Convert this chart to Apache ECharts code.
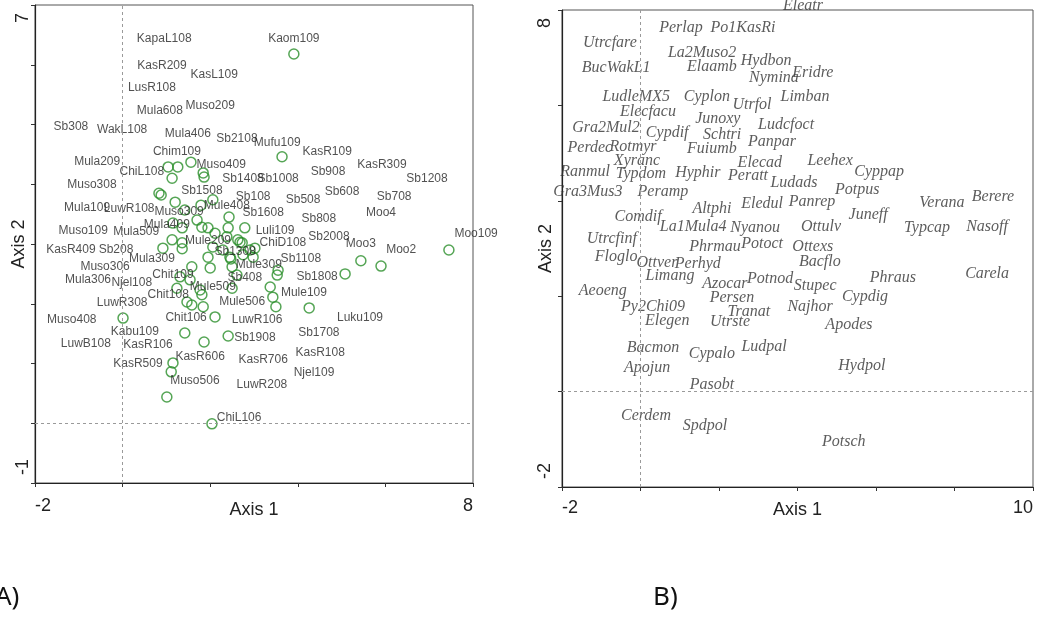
<!DOCTYPE html>
<html>
<head>
<meta charset="utf-8">
<script src="https://cdn.jsdelivr.net/npm/echarts@6/dist/echarts.min.js"></script>
<style>
  html, body { margin: 0; padding: 0; background: #fff; }
  #chart { width: 1043px; height: 626px; }
</style>
</head>
<body>
<div id="chart"></div>
<script>
// ---- Panel A: site scores (axis 1 / axis 2) ----
const xRangeA = [-2, 8];
const yRangeA = [-1, 7];
const siteX = [3.91, 3.64, 1.04, 1.26, 1.56, 1.13, 1.84, 1.86, 0.83, 0.88, 1.20, 1.79, 1.42, 2.06, 2.43, 2.41, 2.79, 1.15,
  1.36, 1.70, 1.81, 1.95, 1.13, 0.92, 1.36, 1.36, 2.11, 2.38, 2.63, 2.73, 2.06, 2.29, 2.45, 2.47, 2.75, 2.91, 2.98,
  3.02, 1.95, 2.00, 1.58, 1.31, 1.54, 1.24, 1.77, 2.50, 2.61, 2.50, 3.53, 3.55, 3.37, 3.43, 2.68, 3.50, 4.26, 5.08,
  5.44, 5.90, 7.45, 1.47, 1.58, 1.81, 1.84, 2.11, 1.42, 1.86, 2.41, 0.01, 1.15, 1.11, 1.01, 2.04];
const siteY = [6.18, 4.46, 4.29, 4.29, 4.37, 4.10, 4.19, 4.12, 3.85, 3.82, 3.70, 3.65, 3.57, 3.74, 3.45, 3.27, 3.27, 3.35,
  3.27, 3.40, 3.28, 3.27, 3.07, 2.93, 3.02, 2.92, 3.18, 3.12, 3.07, 3.02, 2.95, 2.90, 2.78, 2.75, 2.82, 2.90, 2.78,
  2.93, 2.78, 2.60, 2.62, 2.45, 2.40, 2.26, 2.23, 2.62, 2.48, 2.26, 2.48, 2.56, 2.28, 2.11, 3.03, 1.95, 1.93, 2.50,
  2.72, 2.63, 2.90, 2.03, 1.98, 2.15, 1.95, 1.78, 1.51, 1.36, 1.46, 1.76, 1.01, 0.86, 0.44, -0.01];

// site names and where each name sits in axis units
const siteNames = ['KapaL108', 'KasR209', 'KasL109', 'LusR108', 'Mula608', 'Muso209', 'Sb308', 'WakL108', 'Mula406',
  'Sb2108', 'Mufu109', 'Kaom109', 'KasR109', 'Chim109', 'Mula209', 'ChiL108', 'Muso409', 'Sb1408', 'Sb1008', 'Sb908',
  'KasR309', 'Sb1208', 'Muso308', 'Sb1508', 'Sb108', 'Sb508', 'Sb608', 'Sb708', 'Mula109', 'LuwR108', 'Muso309',
  'Mule408', 'Sb1608', 'Moo4', 'Sb808', 'Muso109', 'Mula509', 'Mula409', 'Luli109', 'Moo109', 'Sb2008', 'KasR409',
  'Sb208', 'Mule209', 'ChiD108', 'Moo3', 'Moo2', 'Sb1308', 'Muso306', 'Mula309', 'Sb1108', 'Mule309', 'Mula306',
  'Njel108', 'Chit109', 'Sb1808', 'Sb408', 'Chit108', 'Mule509', 'Mule109', 'Mule506', 'LuwR308', 'Muso408',
  'Chit106', 'LuwR106', 'Luku109', 'Kabu109', 'Sb1908', 'Sb1708', 'LuwB108', 'KasR106', 'KasR606', 'KasR706',
  'KasR108', 'KasR509', 'Muso506', 'Njel109', 'LuwR208', 'ChiL106'];
const siteNameX = [0.95, 0.90, 2.09, 0.67, 0.85, 2.00, -1.18, -0.01, 1.49, 2.61, 3.53, 3.91, 4.67, 1.24, -0.58, 0.44,
  2.25, 2.75, 3.55, 4.69, 5.92, 6.95, -0.70, 1.81, 2.98, 4.12, 5.01, 6.20, -0.81, 0.15, 1.29, 2.38, 3.21, 5.90, 4.48,
  -0.90, 0.31, 1.01, 3.48, 8.07, 4.71, -1.18, -0.15, 1.95, 3.66, 5.44, 6.36, 2.57, -0.40, 0.67, 4.07, 3.11, -0.79,
  0.21, 1.15, 4.44, 2.79, 1.04, 2.06, 4.14, 2.73, -0.01, -1.16, 1.45, 3.07, 5.42, 0.28, 3.02, 4.48, -0.84, 0.58,
  1.77, 3.21, 4.51, 0.35, 1.65, 4.37, 3.18, 2.66];
const siteNameY = [6.43, 5.98, 5.83, 5.61, 5.23, 5.31, 4.96, 4.92, 4.84, 4.76, 4.69, 6.43, 4.54, 4.54, 4.37, 4.21,
  4.32, 4.09, 4.09, 4.21, 4.32, 4.10, 3.99, 3.90, 3.79, 3.74, 3.87, 3.79, 3.60, 3.59, 3.54, 3.64, 3.52, 3.52, 3.42,
  3.23, 3.20, 3.33, 3.23, 3.17, 3.12, 2.90, 2.90, 3.05, 3.02, 3.00, 2.90, 2.87, 2.62, 2.75, 2.75, 2.65, 2.41, 2.35,
  2.48, 2.45, 2.43, 2.15, 2.28, 2.18, 2.03, 2.01, 1.73, 1.76, 1.73, 1.76, 1.53, 1.43, 1.51, 1.33, 1.31, 1.11, 1.06,
  1.18, 0.99, 0.71, 0.84, 0.64, 0.10];

// ---- Panel B: species scores ----
const xRangeB = [-2, 10];
const yRangeB = [-2, 8];
const speciesNames = ['Eleatr', 'Perlap', 'Po1KasRi', 'Utrcfare', 'La2Muso2', 'Hydbon', 'BucWakL1', 'Elaamb', 'Nymina',
  'Eridre', 'LudleMX5', 'Cyplon', 'Utrfol', 'Limban', 'Elecfacu', 'Junoxy', 'Ludcfoct', 'Gra2Mul2', 'Cypdif', 'Schtri',
  'Panpar', 'Perdec', 'Rotmyr', 'Fuiumb', 'Xyranc', 'Elecad', 'Leehex', 'Ranmul', 'Typdom', 'Hyphir', 'Peratt',
  'Cyppap', 'Ludads', 'Gra3Mus3', 'Peramp', 'Potpus', 'Verana', 'Berere', 'Altphi', 'Eledul', 'Panrep', 'Comdif',
  'Juneff', 'La1Mula4', 'Nyanou', 'Ottulv', 'Typcap', 'Nasoff', 'Utrcfinf', 'Phrmau', 'Potoct', 'Ottexs', 'Floglo',
  'Ottver', 'Perhyd', 'Bacflo', 'Limang', 'Phraus', 'Carela', 'Azocar', 'Potnod', 'Stupec', 'Aeoeng', 'Persen',
  'Cypdig', 'Py2Chi09', 'Tranat', 'Najhor', 'Elegen', 'Utrste', 'Apodes', 'Bacmon', 'Cypalo', 'Ludpal', 'Hydpol',
  'Apojun', 'Pasobt', 'Cerdem', 'Spdpol', 'Potsch'];
const speciesX = [4.14, 1.03, 2.61, -0.78, 1.57, 3.20, -0.62, 1.82, 3.40, 4.39, -0.11, 1.69, 2.84, 4.19, 0.19, 1.97,
  3.71, -0.88, 0.68, 2.08, 3.35, -1.29, -0.19, 1.82, -0.09, 3.04, 4.83, -1.41, 0.01, 1.46, 2.74, 6.08, 3.91, -1.34,
  0.57, 5.52, 7.68, 8.98, 1.82, 3.10, 4.37, -0.06, 5.80, 1.34, 2.92, 4.60, 7.30, 8.83, -0.73, 1.90, 3.10, 4.39,
  -0.62, 0.42, 1.46, 4.57, 0.75, 6.43, 8.83, 2.15, 3.30, 4.45, -0.96, 2.33, 5.72, 0.32, 2.76, 4.32, 0.68, 2.28,
  5.31, 0.32, 1.82, 3.15, 5.64, 0.17, 1.82, 0.14, 1.64, 5.18];
const speciesY = [8.08, 7.62, 7.62, 7.31, 7.10, 6.93, 6.78, 6.81, 6.57, 6.68, 6.18, 6.18, 6.01, 6.18, 5.86, 5.71,
  5.59, 5.53, 5.42, 5.38, 5.23, 5.11, 5.13, 5.09, 4.83, 4.79, 4.83, 4.60, 4.56, 4.58, 4.52, 4.60, 4.37, 4.18, 4.18,
  4.23, 3.95, 4.08, 3.83, 3.93, 3.97, 3.66, 3.70, 3.45, 3.43, 3.45, 3.43, 3.45, 3.20, 3.03, 3.09, 3.03, 2.82, 2.70,
  2.68, 2.72, 2.42, 2.38, 2.47, 2.26, 2.36, 2.21, 2.11, 1.96, 1.98, 1.77, 1.67, 1.77, 1.48, 1.46, 1.40, 0.91, 0.79,
  0.93, 0.54, 0.49, 0.14, -0.51, -0.72, -1.06];

const zip = (xs, ys, names) => xs.map((x, i) => names ? { name: names[i], value: [x, ys[i]] } : [x, ys[i]]);

const chart = echarts.init(document.getElementById('chart'), null, { renderer: 'canvas' });

const sans = 'Liberation Sans, Arial, sans-serif';
const serif = 'Liberation Serif, Times New Roman, serif';

function xAxisFor(gridIndex, range, nameGap, labelMargin) {
  return {
    gridIndex, type: 'value', min: range[0], max: range[1], interval: 2,
    name: 'Axis 1', nameLocation: 'middle', nameGap, nameMoveOverlap: false,
    nameTextStyle: { fontFamily: sans, fontSize: 18, color: '#222', verticalAlign: 'top' },
    axisLine: { onZero: false, lineStyle: { color: '#222', width: 1.2 } },
    axisTick: { length: 4, lineStyle: { color: '#333' } },
    splitLine: { show: false },
    axisLabel: {
      margin: labelMargin, fontFamily: sans, fontSize: 18, color: '#222',
      alignMinLabel: 'left', alignMaxLabel: 'right', hideOverlap: false,
      formatter: v => (v === range[0] || v === range[1]) ? String(v) : ''
    }
  };
}

function yAxisFor(gridIndex, range, step, labelMargin) {
  return {
    gridIndex, type: 'value', min: range[0], max: range[1], interval: step,
    name: 'Axis 2', nameLocation: 'middle', nameGap: 7, nameRotate: 90, nameMoveOverlap: false,
    nameTextStyle: { fontFamily: sans, fontSize: 18, color: '#222' },
    axisLine: { onZero: false, lineStyle: { color: '#222', width: 1.2 } },
    axisTick: { length: 4, lineStyle: { color: '#333' } },
    splitLine: { show: false },
    axisLabel: {
      margin: labelMargin, rotate: 90, fontFamily: sans, fontSize: 18, color: '#222',
      alignMinLabel: 'left', alignMaxLabel: 'right', hideOverlap: false,
      padding: [0, 8, 0, 8],
      formatter: v => (v === range[0] || v === range[1]) ? String(v) : ''
    }
  };
}

const zeroLines = {
  silent: true, symbol: 'none', animation: false,
  label: { show: false },
  lineStyle: { type: [3, 3], color: '#9a9a9a', width: 1 },
  data: [{ xAxis: 0 }, { yAxis: 0 }]
};

function nameSeries(idx, data, font, size, color, style) {
  return {
    type: 'scatter', xAxisIndex: idx, yAxisIndex: idx, clip: false, silent: true,
    symbol: 'circle', symbolSize: 1,
    itemStyle: { color: 'transparent' },
    label: {
      show: true, position: 'inside', formatter: '{b}',
      fontFamily: font, fontSize: size, color, fontStyle: style,
      align: 'center', verticalAlign: 'middle'
    },
    labelLayout: { hideOverlap: false },
    data
  };
}

chart.setOption({
  animation: false,
  backgroundColor: '#fff',
  grid: [
    { left: 35, top: 5, width: 438, height: 478, show: true, borderColor: '#555', borderWidth: 1 },
    { left: 562, top: 10, width: 471, height: 477, show: true, borderColor: '#555', borderWidth: 1 }
  ],
  xAxis: [xAxisFor(0, xRangeA, 18, 14), xAxisFor(1, xRangeB, 14, 12)],
  yAxis: [yAxisFor(0, yRangeA, 1, 3), yAxisFor(1, yRangeB, 2, 8)],
  series: [
    {
      type: 'scatter', xAxisIndex: 0, yAxisIndex: 0, silent: true,
      symbol: 'circle', symbolSize: 10,
      itemStyle: { color: 'transparent', borderColor: '#2a8f2a', borderWidth: 1.5 },
      markLine: zeroLines,
      data: zip(siteX, siteY)
    },
    nameSeries(0, zip(siteNameX, siteNameY, siteNames), sans, 12, '#262626', 'normal'),
    Object.assign(nameSeries(1, zip(speciesX, speciesY, speciesNames), serif, 16, '#333', 'italic'),
      { markLine: zeroLines })
  ],
  graphic: [
    { type: 'text', left: -5, top: 585, style: { text: 'A)', font: '26px "Noto Sans"', fill: '#111' } },
    { type: 'text', left: 653, top: 585, style: { text: 'B)', font: '26px "Noto Sans"', fill: '#111' } }
  ]
});
</script>
</body>
</html>
